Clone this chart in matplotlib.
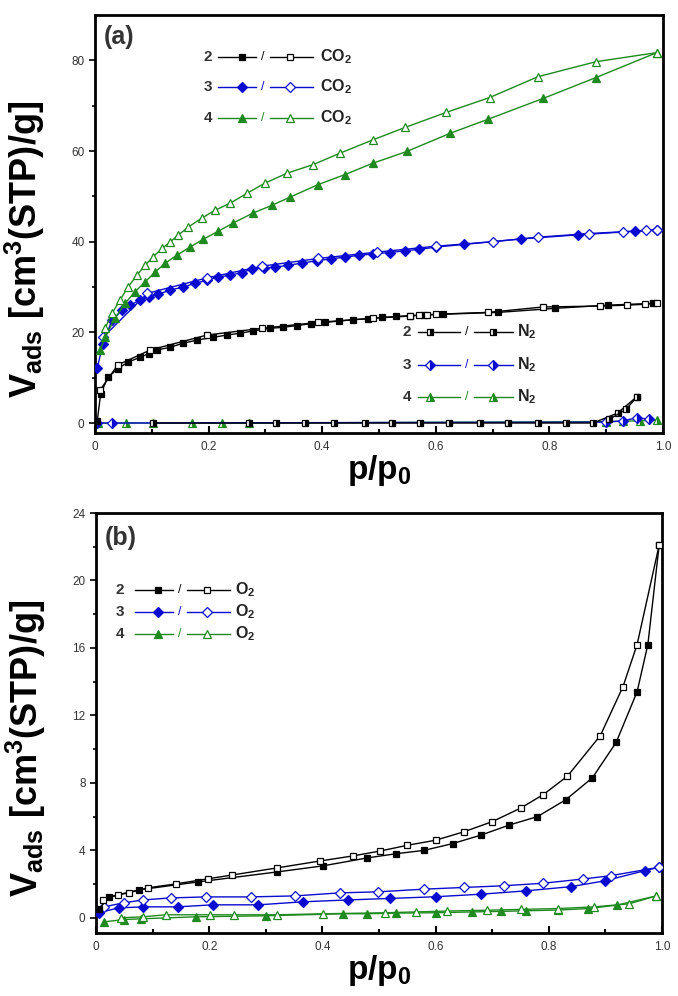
import numpy as np
import matplotlib
matplotlib.use("Agg")
import matplotlib.pyplot as plt
from matplotlib.lines import Line2D

plt.rcParams['font.family'] = ['Liberation Sans', 'DejaVu Sans']
plt.rcParams['mathtext.fontset'] = 'custom'
plt.rcParams['mathtext.rm'] = 'Liberation Sans:bold'
plt.rcParams['mathtext.it'] = 'Liberation Sans:bold'
plt.rcParams['mathtext.bf'] = 'Liberation Sans:bold'

# ---- panel (a): CO2 / N2 isotherms ----
co2_2_ads_x = [0.004, 0.01, 0.023, 0.04, 0.058, 0.079, 0.095, 0.109, 0.132, 0.155, 0.18, 0.208,
               0.232, 0.255, 0.278, 0.308, 0.331, 0.355, 0.38, 0.405, 0.43, 0.455, 0.48, 0.505,
               0.53, 0.555, 0.58, 0.613, 0.71, 0.81, 0.903, 0.982]
co2_2_ads_y = [0.5, 6.5, 10.1, 12.0, 13.4, 14.5, 15.3, 16.1, 16.7, 17.6, 18.3, 18.9,
               19.4, 19.8, 20.3, 20.9, 21.1, 21.5, 21.9, 22.2, 22.5, 22.8, 23.0, 23.3,
               23.5, 23.7, 23.8, 24.0, 24.4, 25.3, 26.0, 26.4]
co2_2_des_x = [0.99, 0.968, 0.937, 0.889, 0.789, 0.692, 0.6, 0.585, 0.57, 0.555, 0.489, 0.393,
               0.294, 0.197, 0.097, 0.04, 0.009]
co2_2_des_y = [26.5, 26.2, 26.0, 25.8, 25.6, 24.4, 24.0, 23.9, 23.8, 23.6, 23.1, 22.2,
               20.9, 19.4, 16.1, 12.8, 7.3]

co2_3_ads_x = [0.004, 0.014, 0.030, 0.048, 0.062, 0.079, 0.095, 0.111, 0.132, 0.155, 0.176,
               0.197, 0.217, 0.238, 0.258, 0.276, 0.297, 0.317, 0.340, 0.365, 0.39, 0.415,
               0.44, 0.465, 0.49, 0.519, 0.545, 0.57, 0.6, 0.65, 0.75, 0.85, 0.95, 0.99]
co2_3_ads_y = [12.1, 17.5, 22.7, 24.9, 26.0, 27.1, 27.8, 28.4, 29.3, 30.0, 30.8,
               31.5, 32.2, 32.6, 33.2, 33.9, 34.2, 34.4, 34.8, 35.3, 35.8, 36.2,
               36.6, 37.0, 37.3, 37.6, 38.0, 38.3, 38.8, 39.4, 40.6, 41.5, 42.3, 42.6]
co2_3_des_x = [0.99, 0.97, 0.93, 0.87, 0.78, 0.70, 0.60, 0.496, 0.393, 0.294, 0.197, 0.092, 0.014]
co2_3_des_y = [42.6, 42.5, 42.2, 41.8, 41.0, 40.0, 39.0, 37.7, 36.3, 34.6, 32.0, 28.6, 18.9]

co2_4_ads_x = [0.009, 0.018, 0.035, 0.053, 0.070, 0.088, 0.106, 0.123, 0.144, 0.167, 0.190,
               0.217, 0.243, 0.278, 0.311, 0.343, 0.393, 0.44, 0.489, 0.549, 0.625, 0.692,
               0.789, 0.882, 0.989]
co2_4_ads_y = [16.1, 18.9, 23.1, 26.4, 28.9, 31.1, 33.3, 35.2, 37.0, 38.8, 40.5,
               42.3, 44.1, 46.3, 48.0, 49.8, 52.6, 54.8, 57.3, 59.9, 63.9, 67.0,
               71.6, 76.2, 81.7]
co2_4_des_x = [0.989, 0.882, 0.780, 0.695, 0.618, 0.546, 0.49, 0.431, 0.384, 0.338, 0.299,
               0.268, 0.238, 0.211, 0.188, 0.164, 0.146, 0.132, 0.118, 0.102, 0.088, 0.074,
               0.058, 0.044, 0.030, 0.018]
co2_4_des_y = [81.7, 79.7, 76.4, 71.8, 68.5, 65.2, 62.5, 59.5, 57.0, 55.1, 52.9,
               50.7, 48.5, 46.9, 45.2, 43.2, 41.4, 39.9, 38.5, 36.6, 34.8, 32.6,
               30.0, 27.1, 24.2, 21.0]

n2_4_x = [0.005, 0.055, 0.102, 0.171, 0.224, 0.271, 0.90, 0.93, 0.96, 0.99]
n2_4_y = [0.0, 0.0, 0.0, 0.0, 0.0, 0.0, 0.3, 0.4, 0.5, 0.6]
n2_3_x = [0.003, 0.03, 0.90, 0.93, 0.955, 0.975]
n2_3_y = [0.0, 0.0, 0.2, 0.5, 1.2, 0.8]
n2_2_ads_x = [0.102, 0.271, 0.319, 0.370, 0.421, 0.475, 0.523, 0.573, 0.623, 0.678, 0.727,
              0.780, 0.829, 0.877, 0.92, 0.954]
n2_2_ads_y = [0.0] * 14 + [2.2, 5.8]
n2_2_des_x = [0.954, 0.935, 0.905]
n2_2_des_y = [5.8, 3.0, 0.8]

# ---- panel (b): O2 isotherms ----
o2_2_ads_x = [0.005, 0.023, 0.076, 0.181, 0.320, 0.401, 0.479, 0.53, 0.58, 0.63, 0.68, 0.73,
              0.78, 0.83, 0.877, 0.919, 0.956, 0.975, 0.995]
o2_2_ads_y = [0.5, 1.24, 1.66, 2.13, 2.72, 3.08, 3.55, 3.8, 4.0, 4.4, 4.9, 5.5,
              6.0, 7.0, 8.3, 10.4, 13.4, 16.2, 22.1]
o2_2_des_x = [0.995, 0.956, 0.931, 0.891, 0.833, 0.79, 0.75, 0.70, 0.65, 0.60, 0.55, 0.502,
              0.454, 0.396, 0.320, 0.241, 0.197, 0.141, 0.092, 0.058, 0.039, 0.012]
o2_2_des_y = [22.1, 16.2, 13.7, 10.8, 8.4, 7.3, 6.5, 5.7, 5.1, 4.6, 4.3, 3.96,
              3.67, 3.37, 2.96, 2.54, 2.31, 2.01, 1.78, 1.48, 1.36, 1.06]

o2_3_ads_x = [0.005, 0.040, 0.083, 0.144, 0.206, 0.287, 0.366, 0.445, 0.52, 0.60, 0.68, 0.76,
              0.84, 0.90, 0.97, 0.995]
o2_3_ads_y = [0.3, 0.59, 0.65, 0.65, 0.77, 0.77, 0.95, 1.06, 1.15, 1.25, 1.4, 1.6,
              1.85, 2.2, 2.8, 3.0]
o2_3_des_x = [0.995, 0.91, 0.86, 0.79, 0.72, 0.65, 0.58, 0.498, 0.431, 0.352, 0.273, 0.194,
              0.132, 0.083, 0.049, 0.014]
o2_3_des_y = [3.0, 2.5, 2.3, 2.05, 1.9, 1.8, 1.7, 1.54, 1.48, 1.3, 1.24, 1.24,
              1.18, 1.06, 0.89, 0.65]

o2_4_ads_x = [0.014, 0.05, 0.079, 0.176, 0.30, 0.437, 0.479, 0.53, 0.6, 0.664, 0.715, 0.76,
              0.817, 0.87, 0.92, 0.99]
o2_4_ads_y = [-0.24, -0.1, -0.06, 0.06, 0.12, 0.24, 0.24, 0.28, 0.3, 0.35, 0.38, 0.42,
              0.46, 0.55, 0.75, 1.3]
o2_4_des_x = [0.99, 0.942, 0.88, 0.817, 0.75, 0.69, 0.62, 0.565, 0.511, 0.401, 0.320, 0.243,
              0.202, 0.123, 0.083, 0.044]
o2_4_des_y = [1.3, 0.83, 0.65, 0.55, 0.5, 0.45, 0.4, 0.35, 0.30, 0.24, 0.18, 0.18,
              0.18, 0.18, 0.06, 0.0]

xticks = [0, 0.2, 0.4, 0.6, 0.8, 1.0]
xticklabels = ['0', '0.2', '0.4', '0.6', '0.8', '1.0']

BLACK = 'k'
BLUE = '#0a0ad0'
GREEN = '#1f8a1f'
styles = {'2': (BLACK, 's'), '3': (BLUE, 'D'), '4': (GREEN, '^')}
msize = {'s': 4.6, 'D': 4.6, '^': 5.2}


def iso(ax, x, y, key, filled, fs=None, z=3):
    col, mk = styles[key]
    if fs is not None:
        kw = dict(markerfacecolor=col, markerfacecoloralt='white', fillstyle=fs)
    elif filled:
        kw = dict(markerfacecolor=col)
    else:
        kw = dict(markerfacecolor='white')
    ax.plot(x, y, color=col, lw=1.0, marker=mk, ms=msize[mk], mec=col, mew=0.9, zorder=z, **kw)


def key_row(ax, yy, num, key, gas, pos, fs=None):
    # legend glyph: "n —■—/—□— gas"
    col, mk = styles[key]
    xn, x0, xm1, xs, xm2, x1, xt = pos
    tr = ax.transAxes
    ax.text(xn, yy, num, transform=tr, ha='center', va='center', fontsize=11,
            fontweight='bold', color='#333333')
    ax.add_line(Line2D([x0, xs - 0.012], [yy, yy], transform=tr, color=col, lw=1.0))
    ax.add_line(Line2D([xs + 0.012, x1], [yy, yy], transform=tr, color=col, lw=1.0))
    f1 = dict(markerfacecolor=col) if fs is None else dict(markerfacecolor=col, markerfacecoloralt='white', fillstyle=fs)
    f2 = dict(markerfacecolor='white') if fs is None else dict(markerfacecolor=col, markerfacecoloralt='white', fillstyle=fs)
    ax.add_line(Line2D([xm1], [yy], transform=tr, marker=mk, ms=msize[mk], mec=col, mew=0.9, color=col, **f1))
    ax.add_line(Line2D([xm2], [yy], transform=tr, marker=mk, ms=msize[mk], mec=col, mew=0.9, color=col, **f2))
    ax.text(xs, yy, '/', transform=tr, ha='center', va='center', fontsize=9, color=col)
    ax.text(xt, yy, gas, transform=tr, ha='left', va='center', fontsize=11.5,
            fontweight='bold', color='#222222')


def style_axes(ax, ylim, yticks, yminor):
    ax.set_xlim(0, 1)
    ax.set_ylim(*ylim)
    ax.set_xticks(xticks)
    ax.set_xticklabels(xticklabels)
    ax.set_xticks(np.arange(0.1, 1.0, 0.2), minor=True)
    ax.set_yticks(yticks)
    ax.set_yticks(yminor, minor=True)
    for s in ax.spines.values():
        s.set_linewidth(2.0)
    ax.tick_params(axis='x', which='both', direction='in', width=1.5, labelsize=8.5,
                   labelcolor='#333333', pad=6)
    ax.tick_params(axis='x', which='major', length=5)
    ax.tick_params(axis='x', which='minor', length=3)
    ax.tick_params(axis='y', which='both', direction='out', width=1.2, labelsize=8.5,
                   labelcolor='#333333')
    ax.tick_params(axis='y', which='major', length=4)
    ax.tick_params(axis='y', which='minor', length=2.5)
    ax.set_xlabel('p/p$_0$', fontsize=24, fontweight='bold', labelpad=0)
    ax.set_ylabel('V$_{ads}$ [cm$^3$(STP)/g]', fontsize=26, fontweight='bold')
    ax.yaxis.set_label_coords(-0.085, 0.44)


fig = plt.figure(figsize=(6.78, 9.96), dpi=100)
axa = fig.add_axes([95 / 678, 1 - 433 / 996, 568 / 678, 418 / 996])
axb = fig.add_axes([96 / 678, 1 - 933 / 996, 566 / 678, 420 / 996])

# panel (a)
iso(axa, n2_4_x, n2_4_y, '4', True, fs='right', z=2)
iso(axa, n2_3_x, n2_3_y, '3', True, fs='right', z=2)
iso(axa, n2_2_ads_x, n2_2_ads_y, '2', True, fs='right', z=3)
iso(axa, n2_2_des_x, n2_2_des_y, '2', True, fs='right', z=3)
iso(axa, co2_2_ads_x, co2_2_ads_y, '2', True)
iso(axa, co2_2_des_x, co2_2_des_y, '2', False)
iso(axa, co2_3_ads_x, co2_3_ads_y, '3', True)
iso(axa, co2_3_des_x, co2_3_des_y, '3', False)
iso(axa, co2_4_ads_x, co2_4_ads_y, '4', True)
iso(axa, co2_4_des_x, co2_4_des_y, '4', False)
style_axes(axa, (-2.2, 90), [0, 20, 40, 60, 80], [10, 30, 50, 70])
axa.text(0.016, 0.975, '(a)', transform=axa.transAxes, ha='left', va='top',
         fontsize=18, fontweight='bold', color='#333333')

pos_co2 = (0.199, 0.217, 0.259, 0.296, 0.343, 0.384, 0.396)
for yy, k in zip([0.900, 0.828, 0.754], ['2', '3', '4']):
    key_row(axa, yy, k, k, 'CO$_2$', pos_co2)
pos_n2 = (0.549, 0.569, 0.590, 0.655, 0.701, 0.736, 0.743)
for yy, k in zip([0.242, 0.163, 0.086], ['2', '3', '4']):
    key_row(axa, yy, k, k, 'N$_2$', pos_n2, fs='right')

# panel (b)
iso(axb, o2_4_ads_x, o2_4_ads_y, '4', True)
iso(axb, o2_4_des_x, o2_4_des_y, '4', False)
iso(axb, o2_3_ads_x, o2_3_ads_y, '3', True)
iso(axb, o2_3_des_x, o2_3_des_y, '3', False)
iso(axb, o2_2_ads_x, o2_2_ads_y, '2', True)
iso(axb, o2_2_des_x, o2_2_des_y, '2', False)
style_axes(axb, (-0.9, 24), [0, 4, 8, 12, 16, 20, 24], [2, 6, 10, 14, 18, 22])
axb.text(0.016, 0.97, '(b)', transform=axb.transAxes, ha='left', va='top',
         fontsize=18, fontweight='bold', color='#333333')

pos_o2 = (0.042, 0.069, 0.110, 0.148, 0.196, 0.237, 0.246)
for yy, k in zip([0.817, 0.764, 0.712], ['2', '3', '4']):
    key_row(axb, yy, k, k, 'O$_2$', pos_o2)

fig.savefig('out.png', dpi=100)
